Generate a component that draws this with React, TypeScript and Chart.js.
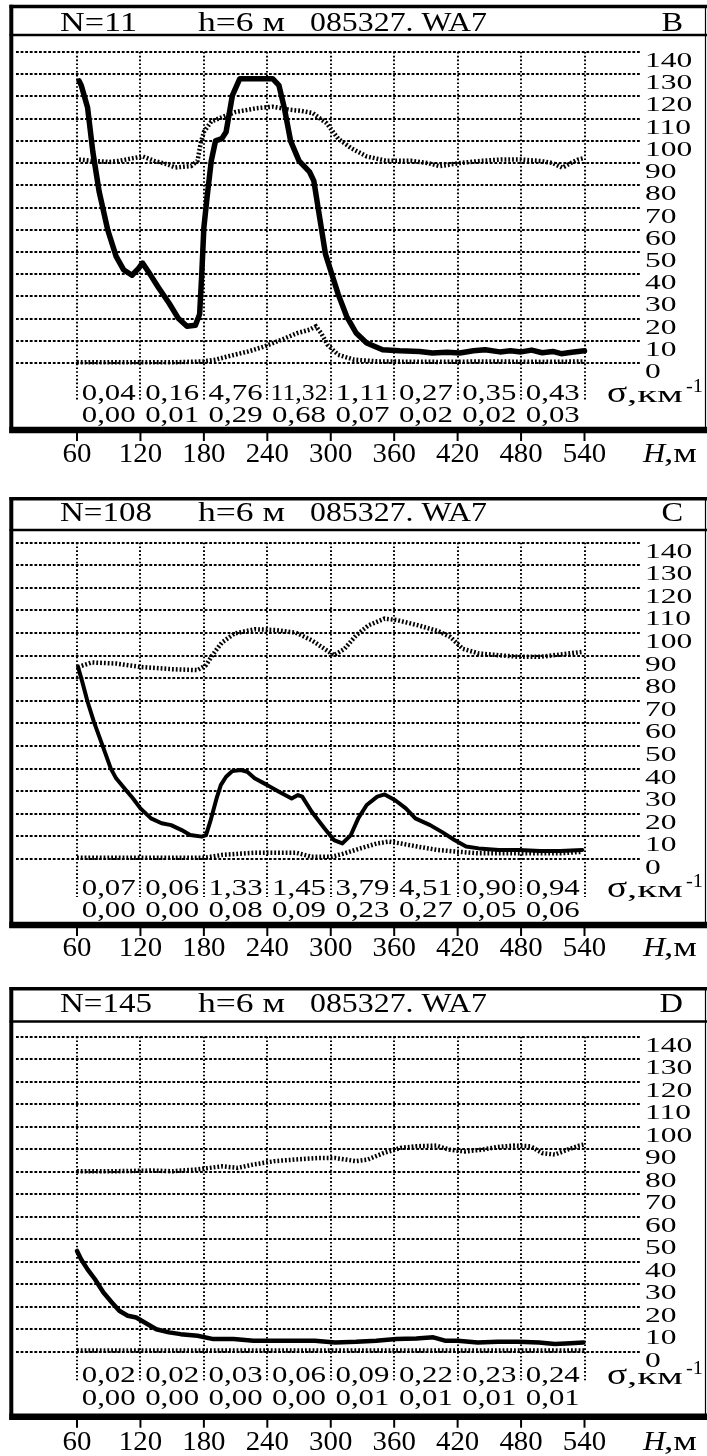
import { useEffect, useRef } from 'react';
import { Chart, registerables } from 'chart.js';

Chart.register(...registerables);

// ---------- tick labels & captions ----------
const xTickValues = [60, 120, 180, 240, 300, 360, 420, 480, 540];
const yTickValues = [0, 10, 20, 30, 40, 50, 60, 70, 80, 90, 100, 110, 120, 130, 140];
const sigmaCellCenters = [90, 150, 210, 270, 330, 390, 450, 510];

const headerB = ['N=11', 'h=6 м', '085327. WA7', 'B'];
const headerC = ['N=108', 'h=6 м', '085327. WA7', 'C'];
const headerD = ['N=145', 'h=6 м', '085327. WA7', 'D'];

const sigmaB1 = ['0,04', '0,16', '4,76', '11,32', '1,11', '0,27', '0,35', '0,43'];
const sigmaB2 = ['0,00', '0,01', '0,29', '0,68', '0,07', '0,02', '0,02', '0,03'];
const sigmaC1 = ['0,07', '0,06', '1,33', '1,45', '3,79', '4,51', '0,90', '0,94'];
const sigmaC2 = ['0,00', '0,00', '0,08', '0,09', '0,23', '0,27', '0,05', '0,06'];
const sigmaD1 = ['0,02', '0,02', '0,03', '0,06', '0,09', '0,22', '0,23', '0,24'];
const sigmaD2 = ['0,00', '0,00', '0,00', '0,00', '0,01', '0,01', '0,01', '0,01'];

// ---------- panel B data ----------
const bMainH = [62, 64, 70, 75, 81, 89, 97, 104, 112, 118, 122, 129, 137, 147, 156, 164, 172, 176, 178, 180, 183, 187, 191, 197, 201, 207, 214, 245, 251, 256, 262, 270, 280, 284, 289, 295, 301, 307, 315, 324, 334, 349, 365, 384, 396, 410, 422, 435, 446, 460, 470, 480, 490, 500, 510, 518, 528, 540];
const bMainV = [127, 125, 115, 95, 77, 60, 48, 42, 39.5, 42.5, 45, 40, 34, 27, 20, 16.5, 17, 22, 40, 61, 74.5, 91, 100, 101, 104, 120.5, 128, 128, 125, 115, 100, 91, 86, 82, 67, 49, 40, 31, 21, 13.5, 9, 6, 5.5, 5.2, 4.5, 4.8, 4.5, 5.5, 6, 5, 5.5, 5, 5.8, 4.6, 5.2, 4.2, 4.8, 5.5];
const bUpH = [62, 75, 90, 100, 114, 122, 133, 145, 153, 168, 174, 177, 180, 187, 199, 210, 230, 245, 261, 272, 283, 290, 296, 307, 319, 334, 353, 376, 392, 403, 422, 442, 461, 480, 499, 510, 519, 527, 534, 540];
const bUpV = [91.6, 91, 90.5, 91, 92.3, 93, 91, 89.5, 88, 88.7, 91, 99, 104, 108.7, 111, 113, 114.7, 115.4, 114, 113.5, 112.5, 110, 108, 101, 96.8, 93, 91, 91, 90, 88.6, 90, 91, 91.6, 91.6, 90.9, 90, 87.9, 90, 91.6, 92.3];
const bLowH = [60, 100, 150, 180, 191, 203, 222, 237, 253, 268, 280, 286, 291, 297, 307, 322, 345, 400, 450, 500, 540];
const bLowV = [0.3, 0.3, 0.3, 0.7, 1.5, 3, 5.2, 7.4, 10.4, 13.4, 15, 16.5, 13.4, 8.2, 3.7, 1.5, 0.7, 0.5, 0.7, 0.5, 0.7];

// ---------- panel C data ----------
const cMainH = [61, 65, 70, 76, 84, 92, 97, 105, 113, 120, 130, 140, 149, 159, 167, 178, 182, 186, 192, 196, 201, 207, 215, 221, 228, 240, 251, 263, 269, 273, 282, 294, 303, 311, 319, 326, 334, 344, 351, 361, 371, 380, 394, 405, 417, 428, 440, 459, 478, 498, 517, 538];
const cMainV = [85, 78.4, 69.6, 60.7, 50.4, 40, 35.7, 31.2, 26.8, 22.4, 18, 15.8, 15, 12.8, 10.6, 9.9, 10.6, 16.5, 26.8, 32.7, 36.4, 38.9, 39.4, 38.6, 35.7, 32.7, 29.8, 26.8, 28.3, 27.6, 20.9, 13.6, 8.4, 6.9, 10.6, 18, 23.9, 27.6, 28.6, 26, 22.4, 18, 15, 12, 8.4, 5.5, 4.7, 4, 4, 3.5, 3.5, 4];
const cUpH = [61, 74, 97, 120, 151, 174, 182, 188, 197, 209, 228, 248, 267, 282, 296, 303, 313, 324, 336, 351, 363, 382, 401, 413, 425, 440, 459, 478, 498, 517, 538];
const cUpV = [85, 87, 86.5, 85, 84, 83.6, 85.8, 90.2, 95.8, 99.8, 101.7, 101.3, 100.2, 96.8, 92.4, 90.2, 93, 99, 103.5, 106.4, 105.7, 103.5, 101, 98.3, 93, 91, 90.2, 89.5, 89.5, 90.5, 91.7];
const cLowH = [60, 120, 180, 197, 228, 267, 282, 301, 313, 328, 344, 355, 366, 382, 401, 421, 440, 478, 517, 538];
const cLowV = [0.5, 0.5, 0.5, 1.8, 2.8, 2.8, 1, 1, 2.5, 4.7, 6.9, 7.7, 6.9, 5.5, 4, 3.2, 2.5, 2.5, 2.5, 3.2];

// ---------- panel D data ----------
const dMainH = [60, 64, 70, 77, 85, 93, 100, 108, 116, 124, 135, 147, 158, 174, 189, 208, 227, 247, 266, 285, 304, 324, 343, 362, 381, 397, 408, 420, 439, 458, 477, 497, 512, 527, 539];
const dMainV = [44.8, 41, 36.6, 32.2, 26.3, 21.9, 18.2, 16, 15.2, 13, 10, 8.6, 7.8, 7.1, 5.6, 5.6, 4.9, 4.9, 4.9, 4.9, 4.1, 4.4, 4.9, 5.6, 5.9, 6.4, 4.9, 4.9, 4.1, 4.4, 4.4, 4.1, 3.4, 3.8, 4.1];
const dUpH = [60, 93, 131, 150, 174, 197, 212, 227, 247, 266, 289, 304, 324, 335, 350, 366, 381, 400, 412, 427, 443, 458, 473, 489, 500, 512, 524, 535, 539];
const dUpV = [80.2, 80.2, 80.5, 80.2, 81, 82.4, 81.7, 83.2, 84.7, 85.4, 86.1, 86.1, 84.7, 85.4, 88.3, 90.6, 91.3, 91.6, 89.8, 89, 89.8, 91, 91.6, 91.3, 88.3, 87.6, 89.8, 91.6, 92];
const dLowH = [60, 150, 250, 350, 450, 540];
const dLowV = [0.5, 0.5, 0.5, 0.5, 0.5, 0.5];

const FONT = '"Liberation Serif", serif';
const W = 707;

type Layout = {
  top: number; height: number; boxTop: number; headerLine: number; headerBase: number;
  top140: number; zero: number; chartBottom: number; row1: number; row2: number;
  boxBottom: number; labelBase: number; mainWidth: number;
};

const layoutB: Layout = { top: 0, height: 480, boxTop: 6.5, headerLine: 35, headerBase: 30.5, top140: 52, zero: 363, chartBottom: 400, row1: 399.5, row2: 421.5, boxBottom: 430, labelBase: 462, mainWidth: 5.5 };
const layoutC: Layout = { top: 493, height: 480, boxTop: 5.7, headerLine: 37, headerBase: 28, top140: 49.7, zero: 366, chartBottom: 403.5, row1: 401.5, row2: 424, boxBottom: 432, labelBase: 463, mainWidth: 4 };
const layoutD: Layout = { top: 983, height: 473, boxTop: 5.7, headerLine: 38.5, headerBase: 28.5, top140: 53.7, zero: 368.7, chartBottom: 397.5, row1: 398.5, row2: 421.5, boxBottom: 433.7, labelBase: 467, mainWidth: 4.5 };

const pts = (h: number[], v: number[]) => h.map((x, i) => ({ x, y: v[i] }));

function sText(
  ctx: CanvasRenderingContext2D, s: string, x: number, y: number, font: string,
  align: 'left' | 'center' | 'right', sx: number | null, width: number | null,
) {
  ctx.save();
  ctx.font = font;
  ctx.textBaseline = 'alphabetic';
  ctx.textAlign = 'left';
  const w = ctx.measureText(s).width;
  const k = width ? width / w : sx || 1;
  const tw = w * k;
  const left = align === 'left' ? x : align === 'center' ? x - tw / 2 : x - tw;
  ctx.translate(left, y);
  ctx.scale(k, 1);
  ctx.fillStyle = '#000';
  ctx.fillText(s, 0, 0);
  ctx.restore();
}

function Panel(props: {
  lay: Layout; header: string[]; s1: string[]; s2: string[];
  main: { x: number; y: number }[]; up: { x: number; y: number }[]; low: { x: number; y: number }[];
}) {
  const ref = useRef<HTMLCanvasElement>(null);
  useEffect(() => {
    const lay = props.lay;
    const chartLeft = 16;
    const chartRight = 640;
    const px60 = 77;
    const px540 = 584.5;
    const ppu = (px540 - px60) / 480;
    const xmin = 60 - (px60 - chartLeft) / ppu;
    const xmax = 540 + (chartRight - px540) / ppu;
    const ymin = -((lay.chartBottom - lay.zero) * 140) / (lay.zero - lay.top140);

    const frame = {
      id: 'frame',
      afterDraw(chart: any) {
        const ctx: CanvasRenderingContext2D = chart.ctx;
        const xs = chart.scales.x;
        const ys = chart.scales.y;
        ctx.save();
        ctx.strokeStyle = '#000';
        ctx.lineCap = 'butt';
        // box
        ctx.lineWidth = 3.5;
        ctx.beginPath(); ctx.moveTo(9.5, lay.boxTop); ctx.lineTo(W, lay.boxTop); ctx.stroke();
        ctx.lineWidth = 2.6;
        ctx.beginPath(); ctx.moveTo(9.5, lay.headerLine); ctx.lineTo(W, lay.headerLine); ctx.stroke();
        ctx.lineWidth = 4;
        ctx.beginPath(); ctx.moveTo(11.3, lay.boxTop - 1.7); ctx.lineTo(11.3, lay.boxBottom + 3); ctx.stroke();
        ctx.lineWidth = 1.2;
        ctx.beginPath(); ctx.moveTo(705.5, lay.boxTop); ctx.lineTo(705.5, lay.boxBottom); ctx.stroke();
        ctx.lineWidth = 6.5;
        ctx.beginPath(); ctx.moveTo(9.3, lay.boxBottom); ctx.lineTo(W, lay.boxBottom); ctx.stroke();
        // x tick marks below the box
        ctx.lineWidth = 2;
        xs.ticks.forEach((t: any) => {
          const px = xs.getPixelForValue(t.value);
          ctx.beginPath(); ctx.moveTo(px, lay.boxBottom + 3); ctx.lineTo(px, lay.boxBottom + 11); ctx.stroke();
        });
        ctx.restore();

        // header
        const hf = `27px ${FONT}`;
        sText(ctx, props.header[0], 60, lay.headerBase, hf, 'left', null, props.header[0].length > 4 ? 92 : 77);
        sText(ctx, props.header[1], 198, lay.headerBase, hf, 'left', null, 87);
        sText(ctx, props.header[2], 310, lay.headerBase, hf, 'left', null, 177);
        sText(ctx, props.header[3], 683, lay.headerBase, hf, 'right', 1.2, null);

        // y tick labels (right side)
        ys.ticks.forEach((t: any) => {
          const py = ys.getPixelForValue(t.value);
          sText(ctx, String(t.value), 645, py + 15, `21px ${FONT}`, 'left', 1.5, null);
        });
        // x tick labels
        xs.ticks.forEach((t: any) => {
          const px = xs.getPixelForValue(t.value);
          sText(ctx, String(t.value), px, lay.labelBase, `27.5px ${FONT}`, 'center', 1.05, null);
        });
        // sigma rows
        sigmaCellCenters.forEach((c, i) => {
          const px = xs.getPixelForValue(c);
          sText(ctx, props.s1[i], px, lay.row1, `22.5px ${FONT}`, 'center', null, props.s1[i].length > 4 ? 57 : 54);
          sText(ctx, props.s2[i], px, lay.row2, `22.5px ${FONT}`, 'center', null, 54);
        });
        // sigma unit
        const sb = lay.row1 + 2;
        sText(ctx, 'σ', 607, sb, `30px ${FONT}`, 'left', 1.25, null);
        sText(ctx, ',км', 627, sb, `24px ${FONT}`, 'left', null, 56);
        sText(ctx, '-1', 686, sb - 10, `19px ${FONT}`, 'left', null, 17);
        // H,м
        sText(ctx, 'H', 643, lay.labelBase, `italic 28px ${FONT}`, 'left', 1.1, null);
        sText(ctx, ',м', 664, lay.labelBase, `27px ${FONT}`, 'left', null, 33);
      },
    };

    const gridColor = (c: any) => {
      const v = c.tick ? c.tick.value : 0;
      return v >= 0 ? '#000' : 'rgba(0,0,0,0)';
    };

    const chart = new Chart(ref.current as HTMLCanvasElement, {
      type: 'line',
      data: {
        datasets: [
          { data: props.up, borderColor: '#000', borderWidth: 4.5, borderDash: [1.8, 2], borderCapStyle: 'butt', pointRadius: 0, tension: 0, fill: false },
          { data: props.low, borderColor: '#000', borderWidth: 4.5, borderDash: [1.8, 2], borderCapStyle: 'butt', pointRadius: 0, tension: 0, fill: false },
          { data: props.main, borderColor: '#000', borderWidth: lay.mainWidth, borderJoinStyle: 'round', borderCapStyle: 'round', pointRadius: 0, tension: 0, fill: false },
        ],
      },
      options: {
        animation: false,
        responsive: false,
        devicePixelRatio: 1,
        events: [],
        layout: { padding: { left: chartLeft, right: W - chartRight, top: lay.top140, bottom: lay.height - lay.chartBottom } },
        plugins: { legend: { display: false }, tooltip: { enabled: false } },
        scales: {
          x: {
            type: 'linear', min: xmin, max: xmax,
            afterBuildTicks: (s: any) => { s.ticks = xTickValues.map((v) => ({ value: v })); },
            ticks: { display: false },
            grid: { color: '#000', lineWidth: 2, drawTicks: false },
            border: { display: false, dash: [1.6, 2.2] },
          },
          y: {
            type: 'linear', position: 'right', min: ymin, max: 140,
            afterBuildTicks: (s: any) => { s.ticks = yTickValues.map((v) => ({ value: v })); },
            ticks: { display: false },
            grid: { color: gridColor, lineWidth: 2, drawTicks: false },
            border: { display: false, dash: [2.8, 1.8] },
          },
        },
      } as any,
      plugins: [frame as any],
    });
    return () => chart.destroy();
  }, []);
  return (
    <canvas
      ref={ref}
      width={W}
      height={props.lay.height}
      style={{ position: 'absolute', left: 0, top: props.lay.top, width: W, height: props.lay.height, display: 'block' }}
    />
  );
}

export default function App() {
  return (
    <div style={{ position: 'absolute', left: 0, top: 0, width: W, height: 1456, background: '#fff' }}>
      <Panel lay={layoutB} header={headerB} s1={sigmaB1} s2={sigmaB2} main={pts(bMainH, bMainV)} up={pts(bUpH, bUpV)} low={pts(bLowH, bLowV)} />
      <Panel lay={layoutC} header={headerC} s1={sigmaC1} s2={sigmaC2} main={pts(cMainH, cMainV)} up={pts(cUpH, cUpV)} low={pts(cLowH, cLowV)} />
      <Panel lay={layoutD} header={headerD} s1={sigmaD1} s2={sigmaD2} main={pts(dMainH, dMainV)} up={pts(dUpH, dUpV)} low={pts(dLowH, dLowV)} />
    </div>
  );
}
